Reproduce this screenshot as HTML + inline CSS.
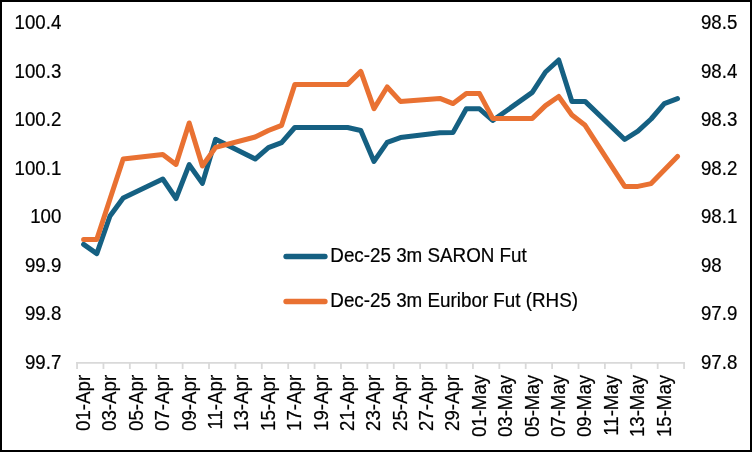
<!DOCTYPE html>
<html><head><meta charset="utf-8"><title>Chart</title>
<style>
html,body{margin:0;padding:0;background:#fff;}
body{width:752px;height:452px;overflow:hidden;}
svg{display:block;}
text{font-family:"Liberation Sans",Arial,sans-serif;font-size:18.67px;fill:#000;stroke:#000;stroke-width:0.2px;}
</style></head><body>
<svg width="752" height="452" viewBox="0 0 752 452">
<rect x="0" y="0" width="752" height="452" fill="#fff"/>
<rect x="1" y="1" width="750" height="450" fill="none" stroke="#000" stroke-width="2"/>

<g stroke="#D9D9D9" stroke-width="1.8" fill="none">
<line x1="76.15" y1="362.9" x2="684.97" y2="362.9"/>
<line x1="77.05" y1="362.0" x2="77.05" y2="369"/>
<line x1="103.44" y1="362.0" x2="103.44" y2="369"/>
<line x1="129.83" y1="362.0" x2="129.83" y2="369"/>
<line x1="156.23" y1="362.0" x2="156.23" y2="369"/>
<line x1="182.62" y1="362.0" x2="182.62" y2="369"/>
<line x1="209.01" y1="362.0" x2="209.01" y2="369"/>
<line x1="235.40" y1="362.0" x2="235.40" y2="369"/>
<line x1="261.79" y1="362.0" x2="261.79" y2="369"/>
<line x1="288.19" y1="362.0" x2="288.19" y2="369"/>
<line x1="314.58" y1="362.0" x2="314.58" y2="369"/>
<line x1="340.97" y1="362.0" x2="340.97" y2="369"/>
<line x1="367.36" y1="362.0" x2="367.36" y2="369"/>
<line x1="393.75" y1="362.0" x2="393.75" y2="369"/>
<line x1="420.15" y1="362.0" x2="420.15" y2="369"/>
<line x1="446.54" y1="362.0" x2="446.54" y2="369"/>
<line x1="472.93" y1="362.0" x2="472.93" y2="369"/>
<line x1="499.32" y1="362.0" x2="499.32" y2="369"/>
<line x1="525.71" y1="362.0" x2="525.71" y2="369"/>
<line x1="552.11" y1="362.0" x2="552.11" y2="369"/>
<line x1="578.50" y1="362.0" x2="578.50" y2="369"/>
<line x1="604.89" y1="362.0" x2="604.89" y2="369"/>
<line x1="631.28" y1="362.0" x2="631.28" y2="369"/>
<line x1="657.67" y1="362.0" x2="657.67" y2="369"/>
<line x1="684.07" y1="362.0" x2="684.07" y2="369"/>
</g>
<text transform="translate(61.3,368.9) scale(1,1.04)" text-anchor="end">99.7</text>
<text transform="translate(701,368.9) scale(1,1.04)">97.8</text>
<text transform="translate(61.3,320.3) scale(1,1.04)" text-anchor="end">99.8</text>
<text transform="translate(701,320.3) scale(1,1.04)">97.9</text>
<text transform="translate(61.3,271.8) scale(1,1.04)" text-anchor="end">99.9</text>
<text transform="translate(701,271.8) scale(1,1.04)">98</text>
<text transform="translate(61.3,223.3) scale(1,1.04)" text-anchor="end">100</text>
<text transform="translate(701,223.3) scale(1,1.04)">98.1</text>
<text transform="translate(61.3,174.7) scale(1,1.04)" text-anchor="end">100.1</text>
<text transform="translate(701,174.7) scale(1,1.04)">98.2</text>
<text transform="translate(61.3,126.2) scale(1,1.04)" text-anchor="end">100.2</text>
<text transform="translate(701,126.2) scale(1,1.04)">98.3</text>
<text transform="translate(61.3,77.6) scale(1,1.04)" text-anchor="end">100.3</text>
<text transform="translate(701,77.6) scale(1,1.04)">98.4</text>
<text transform="translate(61.3,29.1) scale(1,1.04)" text-anchor="end">100.4</text>
<text transform="translate(701,29.1) scale(1,1.04)">98.5</text>
<text transform="translate(89.9,374.9) rotate(-90) scale(1,1.04)" text-anchor="end">01-Apr</text>
<text transform="translate(116.3,374.9) rotate(-90) scale(1,1.04)" text-anchor="end">03-Apr</text>
<text transform="translate(142.7,374.9) rotate(-90) scale(1,1.04)" text-anchor="end">05-Apr</text>
<text transform="translate(169.1,374.9) rotate(-90) scale(1,1.04)" text-anchor="end">07-Apr</text>
<text transform="translate(195.5,374.9) rotate(-90) scale(1,1.04)" text-anchor="end">09-Apr</text>
<text transform="translate(221.9,374.9) rotate(-90) scale(1,1.04)" text-anchor="end">11-Apr</text>
<text transform="translate(248.3,374.9) rotate(-90) scale(1,1.04)" text-anchor="end">13-Apr</text>
<text transform="translate(274.7,374.9) rotate(-90) scale(1,1.04)" text-anchor="end">15-Apr</text>
<text transform="translate(301.1,374.9) rotate(-90) scale(1,1.04)" text-anchor="end">17-Apr</text>
<text transform="translate(327.5,374.9) rotate(-90) scale(1,1.04)" text-anchor="end">19-Apr</text>
<text transform="translate(353.9,374.9) rotate(-90) scale(1,1.04)" text-anchor="end">21-Apr</text>
<text transform="translate(380.3,374.9) rotate(-90) scale(1,1.04)" text-anchor="end">23-Apr</text>
<text transform="translate(406.7,374.9) rotate(-90) scale(1,1.04)" text-anchor="end">25-Apr</text>
<text transform="translate(433.0,374.9) rotate(-90) scale(1,1.04)" text-anchor="end">27-Apr</text>
<text transform="translate(459.4,374.9) rotate(-90) scale(1,1.04)" text-anchor="end">29-Apr</text>
<text transform="translate(485.8,374.9) rotate(-90) scale(1,1.04)" text-anchor="end">01-May</text>
<text transform="translate(512.2,374.9) rotate(-90) scale(1,1.04)" text-anchor="end">03-May</text>
<text transform="translate(538.6,374.9) rotate(-90) scale(1,1.04)" text-anchor="end">05-May</text>
<text transform="translate(565.0,374.9) rotate(-90) scale(1,1.04)" text-anchor="end">07-May</text>
<text transform="translate(591.4,374.9) rotate(-90) scale(1,1.04)" text-anchor="end">09-May</text>
<text transform="translate(617.8,374.9) rotate(-90) scale(1,1.04)" text-anchor="end">11-May</text>
<text transform="translate(644.2,374.9) rotate(-90) scale(1,1.04)" text-anchor="end">13-May</text>
<text transform="translate(670.6,374.9) rotate(-90) scale(1,1.04)" text-anchor="end">15-May</text>
<polyline points="83.6,244.4 96.8,253.6 110.0,216.0 123.2,198.0 162.8,179.0 176.0,198.5 189.2,164.7 202.4,183.4 215.6,139.3 255.2,159.0 268.4,147.6 281.6,142.6 294.8,127.5 308.0,127.5 347.6,127.5 360.8,130.5 374.0,161.4 387.2,142.4 400.4,137.6 439.9,132.8 453.1,132.4 466.3,108.8 479.5,108.8 492.7,120.5 532.3,92.4 545.5,72.0 558.7,60.0 571.9,101.4 585.1,101.4 624.7,139.5 637.9,131.2 651.1,119.0 664.3,103.6 677.5,98.7" fill="none" stroke="#156082" stroke-width="5" stroke-linecap="round" stroke-linejoin="round"/>
<polyline points="83.6,239.4 96.8,239.4 110.0,199.0 123.2,159.0 162.8,154.4 176.0,164.4 189.2,123.0 202.4,166.0 215.6,147.4 255.2,137.0 268.4,130.5 281.6,125.3 294.8,84.4 308.0,84.4 347.6,84.4 360.8,71.4 374.0,108.6 387.2,87.0 400.4,101.4 439.9,98.4 453.1,103.6 466.3,93.6 479.5,93.6 492.7,118.4 532.3,118.4 545.5,105.6 558.7,96.5 571.9,115.0 585.1,125.3 624.7,186.4 637.9,186.4 651.1,183.6 664.3,170.0 677.5,156.4" fill="none" stroke="#E97132" stroke-width="5" stroke-linecap="round" stroke-linejoin="round"/>
<line x1="286" y1="256.5" x2="325" y2="256.5" stroke="#156082" stroke-width="5.3" stroke-linecap="round"/>
<text transform="translate(330.3,262) scale(1.008,1.04)">Dec-25 3m SARON Fut</text>
<line x1="286" y1="301.5" x2="325" y2="301.5" stroke="#E97132" stroke-width="5.3" stroke-linecap="round"/>
<text transform="translate(330.3,307) scale(1.008,1.04)">Dec-25 3m Euribor Fut (RHS)</text>
</svg></body></html>
